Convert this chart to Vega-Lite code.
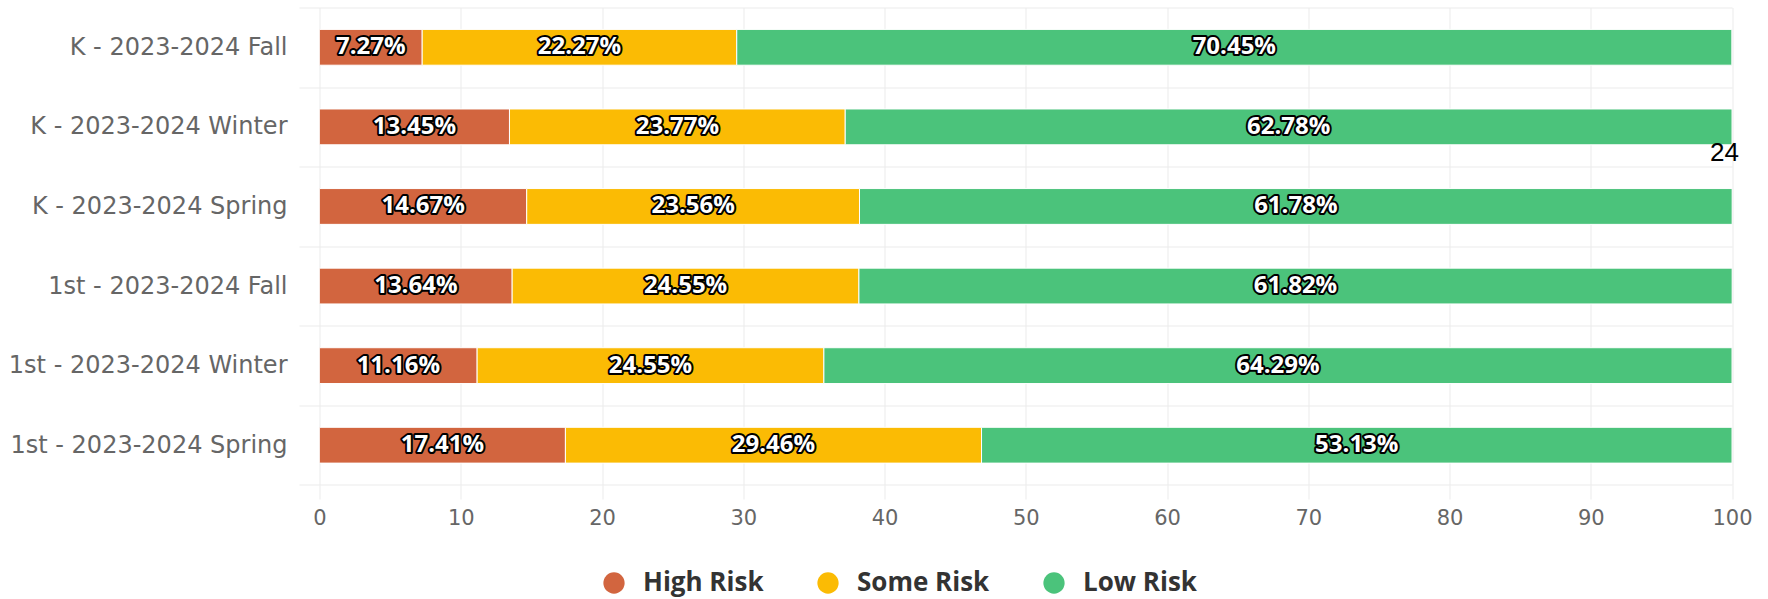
{
  "$schema": "https://vega.github.io/schema/vega-lite/v6.json",
  "width": 1412.5,
  "height": 477.5,
  "autosize": {"type": "none"},
  "padding": {"left": 319.5, "top": 7.5, "right": 36, "bottom": 114},
  "background": "white",
  "config": {"view": {"stroke": null}},
  "layer": [
    {
      "data": {"name": "rows", "values": [
        {"cat": "K - 2023-2024 Fall", "risk": "High Risk", "value": 7.27, "label": "7.27%"},
        {"cat": "K - 2023-2024 Fall", "risk": "Some Risk", "value": 22.27, "label": "22.27%"},
        {"cat": "K - 2023-2024 Fall", "risk": "Low Risk", "value": 70.45, "label": "70.45%"},
        {"cat": "K - 2023-2024 Winter", "risk": "High Risk", "value": 13.45, "label": "13.45%"},
        {"cat": "K - 2023-2024 Winter", "risk": "Some Risk", "value": 23.77, "label": "23.77%"},
        {"cat": "K - 2023-2024 Winter", "risk": "Low Risk", "value": 62.78, "label": "62.78%"},
        {"cat": "K - 2023-2024 Spring", "risk": "High Risk", "value": 14.67, "label": "14.67%"},
        {"cat": "K - 2023-2024 Spring", "risk": "Some Risk", "value": 23.56, "label": "23.56%"},
        {"cat": "K - 2023-2024 Spring", "risk": "Low Risk", "value": 61.78, "label": "61.78%"},
        {"cat": "1st - 2023-2024 Fall", "risk": "High Risk", "value": 13.64, "label": "13.64%"},
        {"cat": "1st - 2023-2024 Fall", "risk": "Some Risk", "value": 24.55, "label": "24.55%"},
        {"cat": "1st - 2023-2024 Fall", "risk": "Low Risk", "value": 61.82, "label": "61.82%"},
        {"cat": "1st - 2023-2024 Winter", "risk": "High Risk", "value": 11.16, "label": "11.16%"},
        {"cat": "1st - 2023-2024 Winter", "risk": "Some Risk", "value": 24.55, "label": "24.55%"},
        {"cat": "1st - 2023-2024 Winter", "risk": "Low Risk", "value": 64.29, "label": "64.29%"},
        {"cat": "1st - 2023-2024 Spring", "risk": "High Risk", "value": 17.41, "label": "17.41%"},
        {"cat": "1st - 2023-2024 Spring", "risk": "Some Risk", "value": 29.46, "label": "29.46%"},
        {"cat": "1st - 2023-2024 Spring", "risk": "Low Risk", "value": 53.13, "label": "53.13%"}
      ]},
      "transform": [{"stack": "value", "groupby": ["cat"], "as": ["x0", "x1"]}],
      "layer": [
        {
          "mark": {"type": "bar", "height": {"band": 0.45}, "stroke": "white", "strokeWidth": 1, "clip": true},
          "encoding": {
            "y": {
              "field": "cat", "type": "nominal",
              "scale": {"domain": ["K - 2023-2024 Fall", "K - 2023-2024 Winter", "K - 2023-2024 Spring", "1st - 2023-2024 Fall", "1st - 2023-2024 Winter", "1st - 2023-2024 Spring"], "paddingInner": 0, "paddingOuter": 0},
              "axis": {
                "orient": "left", "title": null, "domain": false,
                "tickBand": "extent", "ticks": true, "tickSize": 20.5, "tickColor": "#ebebeb", "tickWidth": 1,
                "grid": true, "gridColor": "#ebebeb", "gridWidth": 1,
                "labelFont": "DejaVu Sans", "labelFontSize": 24, "labelColor": "#666666", "labelPadding": 12, "labelLimit": 500
              }
            },
            "x": {
              "field": "x0", "type": "quantitative",
              "scale": {"domain": [0, 100], "nice": false},
              "axis": {
                "title": null, "values": [0, 10, 20, 30, 40, 50, 60, 70, 80, 90, 100],
                "grid": true, "gridColor": "#ebebeb", "gridWidth": 1,
                "ticks": true, "tickSize": 14, "tickColor": "#ebebeb", "domain": false,
                "labelFont": "DejaVu Sans", "labelFontSize": 21, "labelColor": "#666666", "labelPadding": 8, "labelFlush": false
              }
            },
            "x2": {"field": "x1"},
            "color": {
              "field": "risk", "type": "nominal",
              "scale": {"domain": ["High Risk", "Some Risk", "Low Risk"], "range": ["#D2653F", "#FBBB04", "#4BC37B"]},
              "legend": {
                "orient": "none", "legendX": 281.5, "legendY": 562.5, "direction": "horizontal", "title": null,
                "symbolType": "circle", "symbolSize": 452, "symbolStrokeWidth": 0, "symbolOpacity": 1,
                "labelFont": "Open Sans", "labelFontWeight": "bold", "labelFontSize": 26, "labelColor": "#333333",
                "labelOffset": 16, "columnPadding": 51, "padding": 0, "labelLimit": 300
              }
            }
          }
        },
        {
          "transform": [
            {"fold": ["x0", "x1"], "as": ["edge", "pos"]},
            {"aggregate": [{"op": "mean", "field": "pos", "as": "mid"}], "groupby": ["cat", "label"]}
          ],
          "layer": [
            {
              "mark": {"type": "text", "font": "Open Sans", "fontWeight": "bold", "fontSize": 24, "fill": "black", "stroke": "black", "strokeWidth": 4, "strokeJoin": "round", "align": "center", "baseline": "middle"},
              "encoding": {
                "y": {"field": "cat", "type": "nominal"},
                "x": {"field": "mid", "type": "quantitative"},
                "text": {"field": "label"}
              }
            },
            {
              "mark": {"type": "text", "font": "Open Sans", "fontWeight": "bold", "fontSize": 24, "fill": "white", "align": "center", "baseline": "middle"},
              "encoding": {
                "y": {"field": "cat", "type": "nominal"},
                "x": {"field": "mid", "type": "quantitative"},
                "text": {"field": "label"}
              }
            }
          ]
        }
      ]
    },
    {
      "data": {"values": [{"note": "24"}]},
      "mark": {"type": "text", "font": "Liberation Sans", "fontSize": 26, "color": "black", "align": "right", "baseline": "middle", "dx": 7, "dy": 26.5},
      "encoding": {
        "y": {"datum": "K - 2023-2024 Winter", "type": "nominal"},
        "x": {"datum": 100, "type": "quantitative"},
        "text": {"field": "note"}
      }
    }
  ]
}
